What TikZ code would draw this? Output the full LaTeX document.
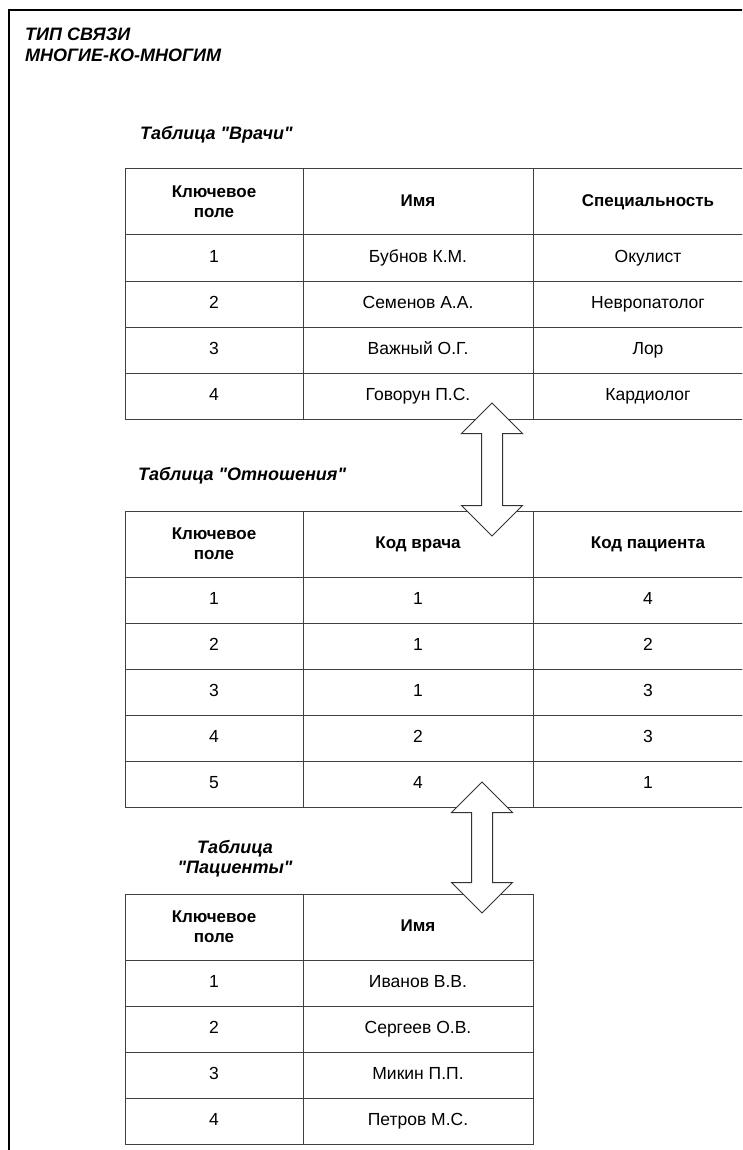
\documentclass[tikz,border=0pt]{standalone}
\usepackage{fontspec}
\setmainfont{Liberation Sans}
\usepackage{xcolor}
\usetikzlibrary{shapes.arrows, positioning}
\tikzstyle{cell} = [rectangle, draw=black!75, line width=1pt, outer sep=0pt, inner sep=0pt, minimum height=46pt, text centered, font=\fontsize{17.5}{20}\selectfont]
\tikzstyle{even} = [text height=12.5pt, text depth=3.5pt]
\tikzstyle{keycol} = [cell, minimum width=178pt]
\tikzstyle{datacol} = [cell, minimum width=230pt]
\tikzstyle{headcell} = [minimum height=66pt, align=center, font=\fontsize{17}{20}\selectfont\bfseries]
\tikzstyle{caption} = [anchor=base west, inner sep=0pt, font=\fontsize{18}{20}\selectfont\bfseries\itshape]
\tikzstyle{link} = [double arrow, draw=black!80, fill=white, line width=1pt, inner xsep=0pt, inner ysep=10pt, minimum width=60pt, double arrow head extend=20pt, rotate=90]

\begin{document}
\begin{tikzpicture}[x=1pt, y=-1pt]
    \useasboundingbox (0,0) rectangle (742,1150);
    \clip (0,0) rectangle (742,1150);

    % frame and title
    \draw [line width=2.5pt] (9,1152) -- (9,10) -- (745,10);
    \node (title1) [caption] at (25,41) {ТИП СВЯЗИ};
    \node (title2) [caption] at (25,62) {МНОГИЕ-КО-МНОГИМ};

    % table "Врачи"
    \node (cap1) [caption] at (140,140) {Таблица \textquotedbl Врачи\textquotedbl};
    \node (vr-h1) [keycol, headcell, anchor=north west] at (125,169) {Ключевое\\поле};
    \node (vr-h2) [datacol, headcell, even, right=0pt of vr-h1] {Имя};
    \node (vr-h3) [datacol, headcell, even, right=0pt of vr-h2] {Специальность};
    \foreach \k/\name/\spec [count=\i] in {1/Бубнов К.М./Окулист, 2/Семенов А.А./Невропатолог, 3/Важный О.Г./Лор, 4/Говорун П.С./Кардиолог} {
        \node (vr-\i-1) [keycol, even, anchor=north west] at (125,189+46*\i) {\k};
        \node (vr-\i-2) [datacol, even, right=0pt of vr-\i-1] {\name};
        \node (vr-\i-3) [datacol, even, right=0pt of vr-\i-2] {\spec};
    }

    % table "Отношения"
    \node (cap2) [caption] at (138,480) {Таблица \textquotedbl Отношения\textquotedbl};
    \node (ot-h1) [keycol, headcell, anchor=north west] at (125,511) {Ключевое\\поле};
    \node (ot-h2) [datacol, headcell, even, right=0pt of ot-h1] {Код врача};
    \node (ot-h3) [datacol, headcell, even, right=0pt of ot-h2] {Код пациента};
    \foreach \k/\doc/\pat [count=\i] in {1/1/4, 2/1/2, 3/1/3, 4/2/3, 5/4/1} {
        \node (ot-\i-1) [keycol, even, anchor=north west] at (125,531+46*\i) {\k};
        \node (ot-\i-2) [datacol, even, right=0pt of ot-\i-1] {\doc};
        \node (ot-\i-3) [datacol, even, right=0pt of ot-\i-2] {\pat};
    }

    % table "Пациенты"
    \node (cap3a) [caption, anchor=base] at (235,853) {Таблица};
    \node (cap3b) [caption, anchor=base] at (235,873) {\textquotedbl Пациенты\textquotedbl};
    \node (pa-h1) [keycol, headcell, anchor=north west] at (125,894) {Ключевое\\поле};
    \node (pa-h2) [datacol, headcell, even, right=0pt of pa-h1] {Имя};
    \foreach \k/\name [count=\i] in {1/Иванов В.В., 2/Сергеев О.В., 3/Микин П.П., 4/Петров М.С.} {
        \node (pa-\i-1) [keycol, even, anchor=north west] at (125,914+46*\i) {\k};
        \node (pa-\i-2) [datacol, even, right=0pt of pa-\i-1] {\name};
    }

    % links between tables
    \node (link1) [link, minimum height=133pt] at (492,469.5) {};
    \node (link2) [link, minimum height=131pt] at (482,847.5) {};
\end{tikzpicture}
\end{document}
